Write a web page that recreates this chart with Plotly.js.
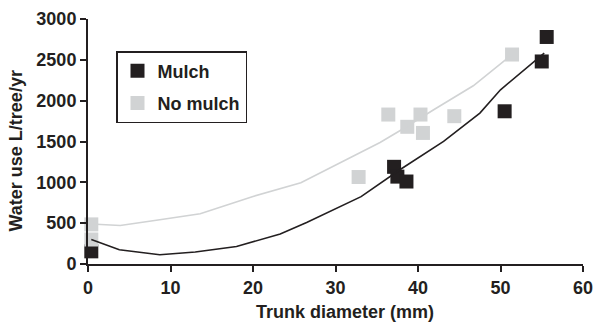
<!DOCTYPE html>
<html>
<head>
<meta charset="utf-8">
<script src="https://cdn.plot.ly/plotly-3.0.1.min.js"></script>
<style>html,body{margin:0;padding:0;background:#fff;}#chart{width:599px;height:323px;}</style>
</head>
<body>
<div id="chart"></div>
<script>
// Measured points
const mulchX = [0.4, 37.1, 37.5, 38.6, 50.5, 55.0, 55.6];
const mulchY = [155, 1190, 1070, 1010, 1870, 2480, 2780];
const noMulchX = [0.4, 0.4, 32.8, 36.4, 38.7, 40.3, 40.6, 44.4, 51.4];
const noMulchY = [485, 300, 1065, 1830, 1680, 1830, 1605, 1810, 2565];

// Trendlines
const mulchFitX = [0.4, 3.8, 8.7, 13.0, 18.0, 23.3, 26.5, 33.1, 37.8, 43.1, 47.5, 50.0, 55.3];
const mulchFitY = [300, 175, 114, 147, 215, 367, 509, 825, 1154, 1501, 1848, 2133, 2583];
const noMulchFitX = [0.4, 3.9, 8.7, 13.6, 20.0, 25.8, 35.4, 38.0, 41.9, 46.7, 50.6, 51.4];
const noMulchFitY = [490, 472, 542, 616, 827, 995, 1488, 1644, 1889, 2182, 2500, 2565];

const xTicks = [0, 10, 20, 30, 40, 50, 60];
const yTicks = [0, 500, 1000, 1500, 2000, 2500, 3000];
const seriesNames = ['Mulch', 'No mulch'];
const xTitle = 'Trunk diameter (mm)';
const yTitle = 'Water use L/tree/yr';

const BLACK = '#231f20';
const GRAY = '#d1d3d4';
const FONT = 'Liberation Sans, Arial, Helvetica, sans-serif';
const FS = 18;

const traces = [
  {x: mulchX, y: mulchY, type: 'scatter', mode: 'markers', name: seriesNames[0],
   legendgroup: 'a', marker: {symbol: 'square', size: 14, color: BLACK}, cliponaxis: false},
  {x: noMulchX, y: noMulchY, type: 'scatter', mode: 'markers', name: seriesNames[1],
   legendgroup: 'b', marker: {symbol: 'square', size: 14, color: GRAY}, cliponaxis: false},
  {x: mulchFitX, y: mulchFitY, type: 'scatter', mode: 'lines', showlegend: false,
   line: {color: BLACK, width: 1.6}, hoverinfo: 'skip'},
  {x: noMulchFitX, y: noMulchFitY, type: 'scatter', mode: 'lines', showlegend: false,
   line: {color: GRAY, width: 1.6}, hoverinfo: 'skip'}
];

const L = 88, R = 583, T = 19, B = 264;
const W = R - L, H = B - T;

const layout = {
  width: 599, height: 323,
  margin: {l: L, r: 599 - R, t: T, b: 323 - B, pad: 0},
  paper_bgcolor: '#fff', plot_bgcolor: '#fff',
  showlegend: true,
  font: {family: FONT, color: BLACK, size: FS, weight: 'bold'},
  xaxis: {
    range: [0, 60], tickvals: xTicks, ticktext: xTicks.map(String),
    showgrid: false, zeroline: false, showline: true, linecolor: BLACK, linewidth: 2,
    ticks: 'outside', ticklen: 6, tickwidth: 2, tickcolor: BLACK,
    tickfont: {family: FONT, size: FS, color: BLACK, weight: 'bold'}
  },
  yaxis: {
    range: [0, 3000], tickvals: yTicks, ticktext: yTicks.map(String),
    showgrid: false, zeroline: false, showline: true, linecolor: BLACK, linewidth: 2,
    ticks: 'outside', ticklen: 6, tickwidth: 2, tickcolor: BLACK,
    tickfont: {family: FONT, size: FS, color: BLACK, weight: 'bold'}
  },
  legend: {
    x: (116 - L) / W, y: (B - 51) / H, xanchor: 'left', yanchor: 'top',
    bgcolor: '#fff', bordercolor: BLACK, borderwidth: 1.5,
    font: {family: FONT, size: FS, color: BLACK, weight: 'bold'},
    traceorder: 'grouped', tracegroupgap: 6
  },
  annotations: [
    {text: xTitle, xref: 'paper', yref: 'paper', x: (345 - L) / W, y: (B - 312) / H,
     xanchor: 'center', yanchor: 'middle', showarrow: false,
     font: {family: FONT, size: FS, color: BLACK, weight: 'bold'}},
    {text: yTitle, xref: 'paper', yref: 'paper', x: (15.5 - L) / W, y: (B - 151) / H,
     xanchor: 'center', yanchor: 'middle', showarrow: false, textangle: -90,
     font: {family: FONT, size: FS, color: BLACK, weight: 'bold'}}
  ]
};

Plotly.newPlot('chart', traces, layout, {displayModeBar: false, staticPlot: true});
</script>
</body>
</html>
